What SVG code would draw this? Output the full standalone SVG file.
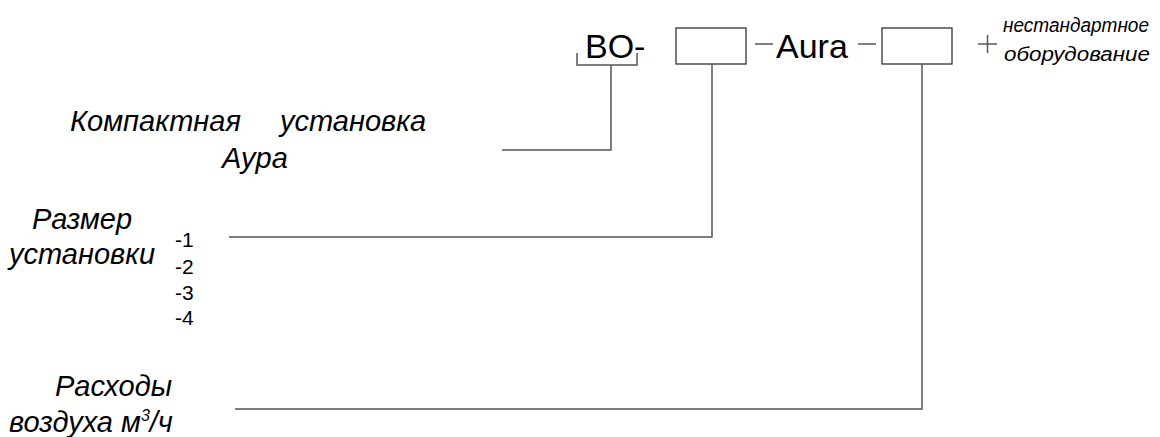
<svg xmlns="http://www.w3.org/2000/svg" width="1160" height="437" viewBox="0 0 1160 437">
<style>
text{font-family:"Liberation Sans",Arial,sans-serif;fill:#000}
.lab{font-size:29px;font-style:italic}
.num{font-size:21px}
.code{font-size:34px}
.small{font-size:20px;font-style:italic}
.ln{stroke:#555;stroke-width:1.5;fill:none}
.box{stroke:#333;stroke-width:1.3;fill:#fff}
</style>
<rect width="1160" height="437" fill="#fff"/>
<g id="code">
<text class="code" x="585" y="58">BO-</text>
<text class="code" x="776" y="58">Aura</text>
<line class="ln" x1="755" y1="44" x2="773" y2="44"/>
<line class="ln" x1="858" y1="44" x2="876" y2="44"/>
<line class="ln" x1="978" y1="44" x2="997" y2="44"/>
<line class="ln" x1="987.5" y1="35" x2="987.5" y2="53"/>
</g>
<g id="box-size"><rect class="box" x="676" y="28" width="70" height="36"/></g>
<g id="box-flow"><rect class="box" x="882" y="28" width="70" height="36"/></g>
<g id="extra">
<text class="small" x="1003" y="32" textLength="146" lengthAdjust="spacingAndGlyphs">нестандартное</text>
<text class="small" x="1004" y="61" textLength="146" lengthAdjust="spacingAndGlyphs">оборудование</text>
</g>
<g id="compact">
<text class="lab" x="70" y="131">Компактная</text>
<text class="lab" x="280" y="131">установка</text>
<text class="lab" x="222" y="168">Аура</text>
</g>
<g id="size">
<text class="lab" x="32" y="229">Размер</text>
<text class="lab" x="9" y="264">установки</text>
<text class="num" x="175" y="247">-1</text>
<text class="num" x="175" y="274">-2</text>
<text class="num" x="175" y="300">-3</text>
<text class="num" x="175" y="325">-4</text>
</g>
<g id="flow">
<text class="lab" x="55" y="396">Расходы</text>
<text class="lab" x="9" y="432">воздуха м<tspan font-size="16" dy="-11">3</tspan><tspan dy="11">/ч</tspan></text>
</g>
<g id="connectors">
<polyline class="ln" points="577,53 577,65 637,65 637,53"/>
<polyline class="ln" points="611,65 611,150 502,150"/>
<polyline class="ln" points="712,64 712,237 229,237"/>
<polyline class="ln" points="922,64 922,409 235,409"/>
</g>
</svg>
